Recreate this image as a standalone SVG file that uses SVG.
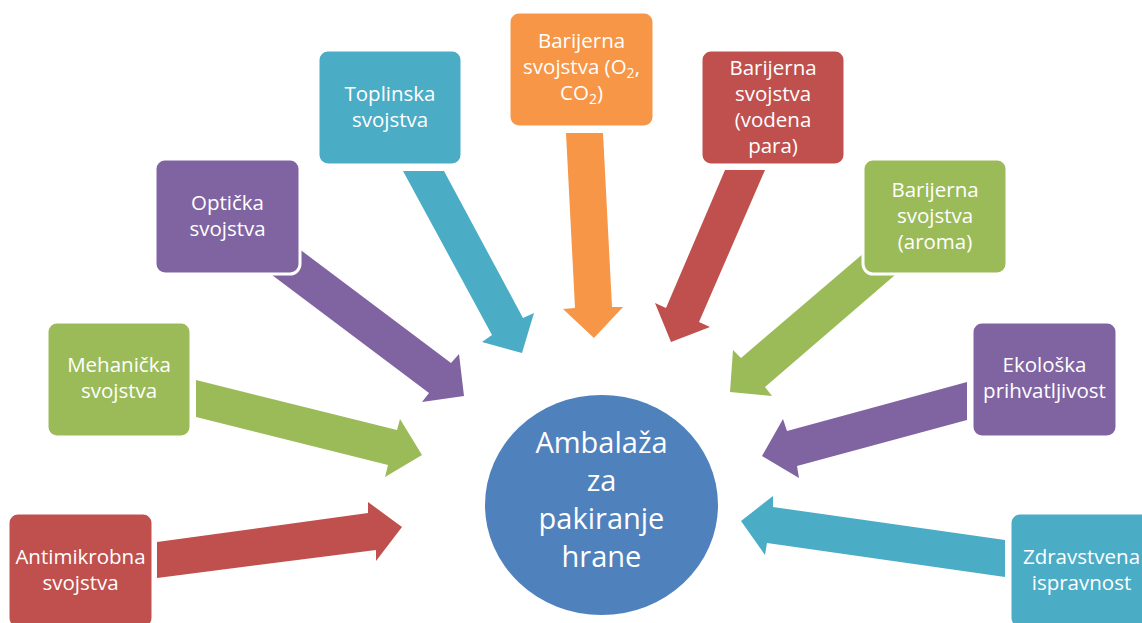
<svg xmlns="http://www.w3.org/2000/svg" width="1142" height="623" viewBox="0 0 1142 623">
<style>
.box{stroke:#fff;stroke-width:3}
.lbl{font-family:"Open Sans","Liberation Sans",sans-serif;font-size:20.5px;fill:#fff;text-anchor:middle}
.big{font-family:"Open Sans","Liberation Sans",sans-serif;font-size:29px;fill:#fff;text-anchor:middle}
.sub{font-size:14px}
.red{fill:#C0504D}.green{fill:#9BBB59}.purple{fill:#8064A2}.teal{fill:#4BACC6}.orange{fill:#F79646}.blue{fill:#4F81BD}
</style>
<rect width="1142" height="623" fill="#fff"/>
<g id="connectors">
<polygon class="red" points="157,542 368,513 368,502 402,527 376,561 376,550 157,578"/>
<polygon class="green" points="196,380 397,430 400,419 422,455 385,477 388,465 196,417"/>
<polygon class="purple" points="290,242 451,363 459,354 464,396 422,402 429,393 268,272"/>
<polygon class="teal" points="403,171 444,171 523,318 534,313 522,353 482,342 492,335"/>
<polygon class="orange" points="566,133 603,133 612,307 623,307 594,338 563,309 575,308"/>
<polygon class="red" points="725,170 765,170 699,322 710,327 671,342 655,303 666,308"/>
<polygon class="green" points="878,241 741,358 733,350 730,392 772,396 765,387 902,269"/>
<polygon class="purple" points="967,382 787,431 783,419 762,456 799,478 797,466 967,420"/>
<polygon class="teal" points="1005,540 773,507 773,496 741,521 765,555 767,543 1005,577"/>
</g>
<g id="center">
<ellipse class="blue" cx="601.5" cy="505" rx="116.5" ry="110"/>
<text class="big" x="601.5" y="453">Ambalaža</text>
<text class="big" x="601.5" y="491">za</text>
<text class="big" x="601.5" y="529">pakiranje</text>
<text class="big" x="601.5" y="567">hrane</text>
</g>
<g id="antimikrobna">
<rect class="box red" x="8" y="513" width="145" height="115" rx="10"/>
<text class="lbl" x="80.5" y="564">Antimikrobna</text>
<text class="lbl" x="80.5" y="590">svojstva</text>
</g>
<g id="mehanicka">
<rect class="box green" x="47" y="322" width="144" height="115" rx="10"/>
<text class="lbl" x="119" y="372">Mehanička</text>
<text class="lbl" x="119" y="398">svojstva</text>
</g>
<g id="opticka">
<rect class="box purple" x="155" y="159" width="145" height="115" rx="10"/>
<text class="lbl" x="227.5" y="210">Optička</text>
<text class="lbl" x="227.5" y="236">svojstva</text>
</g>
<g id="toplinska">
<rect class="box teal" x="318" y="50" width="144" height="115" rx="10"/>
<text class="lbl" x="390" y="101">Toplinska</text>
<text class="lbl" x="390" y="127">svojstva</text>
</g>
<g id="barijerna-o2">
<rect class="box orange" x="509" y="12" width="145" height="115" rx="10"/>
<text class="lbl" x="581.5" y="48">Barijerna</text>
<text class="lbl" x="581.5" y="74">svojstva (O<tspan class="sub" dy="4">2</tspan><tspan dy="-4">,</tspan></text>
<text class="lbl" x="581.5" y="100">CO<tspan class="sub" dy="4">2</tspan><tspan dy="-4">)</tspan></text>
</g>
<g id="barijerna-vodena">
<rect class="box red" x="701" y="50" width="144" height="115" rx="10"/>
<text class="lbl" x="773" y="75">Barijerna</text>
<text class="lbl" x="773" y="101">svojstva</text>
<text class="lbl" x="773" y="127">(vodena</text>
<text class="lbl" x="773" y="153">para)</text>
</g>
<g id="barijerna-aroma">
<rect class="box green" x="863" y="159" width="144" height="115" rx="10"/>
<text class="lbl" x="935" y="197">Barijerna</text>
<text class="lbl" x="935" y="223">svojstva</text>
<text class="lbl" x="935" y="249">(aroma)</text>
</g>
<g id="ekoloska">
<rect class="box purple" x="972" y="322" width="145" height="115" rx="10"/>
<text class="lbl" x="1044.5" y="372">Ekološka</text>
<text class="lbl" x="1044.5" y="398">prihvatljivost</text>
</g>
<g id="zdravstvena">
<rect class="box teal" x="1010" y="513" width="143" height="115" rx="10"/>
<text class="lbl" x="1081.5" y="564">Zdravstvena</text>
<text class="lbl" x="1081.5" y="590">ispravnost</text>
</g>
</svg>
